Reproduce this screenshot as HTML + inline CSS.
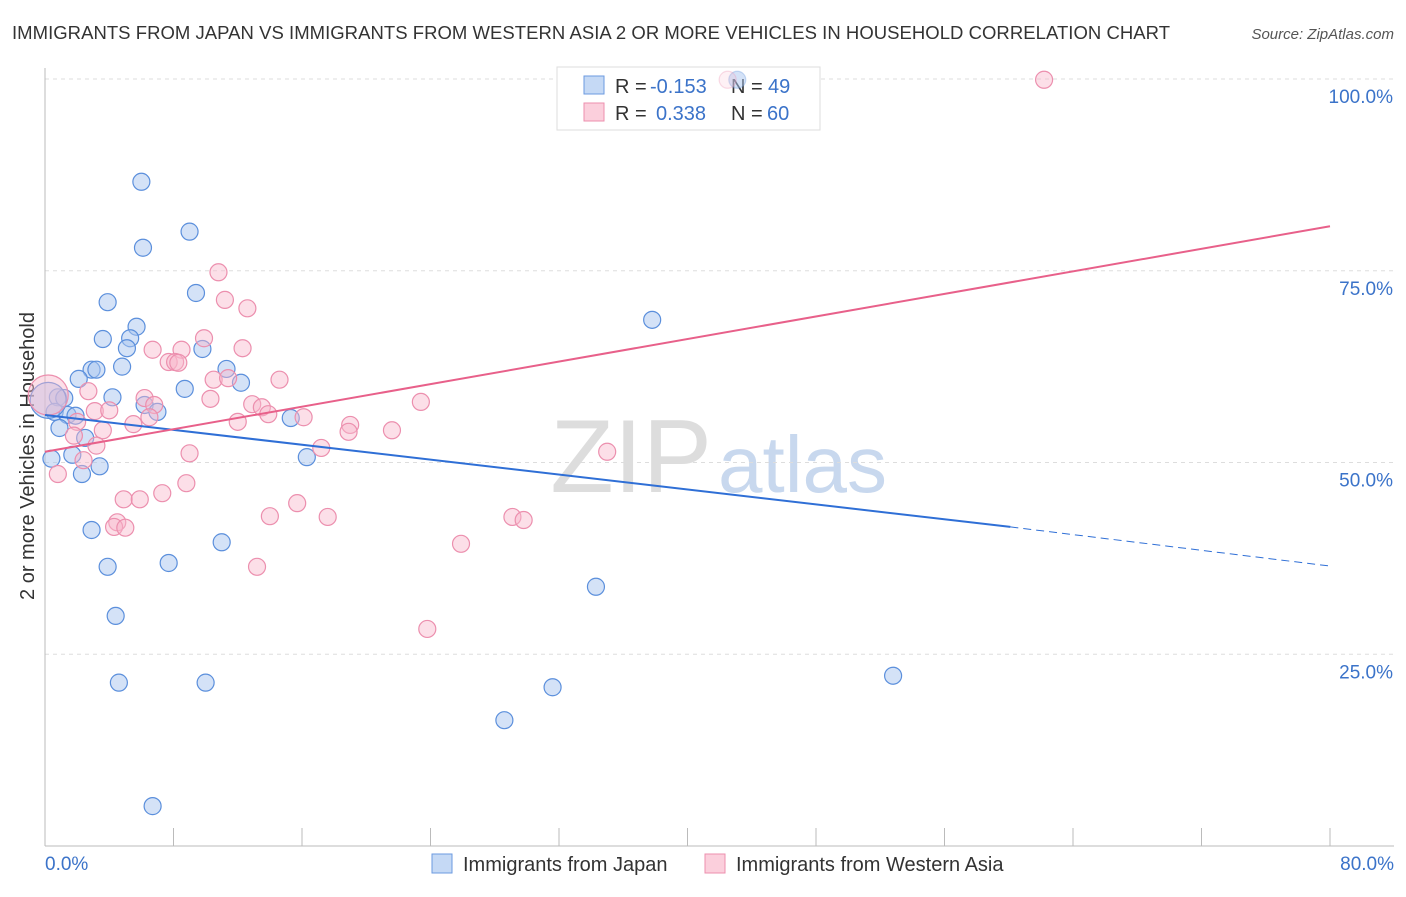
<!DOCTYPE html>
<html><head><meta charset="utf-8"><style>
body{margin:0;background:#fff;font-family:"Liberation Sans",sans-serif}
svg text{font-family:"Liberation Sans",sans-serif}
</style></head><body>
<svg width="1406" height="892" xmlns="http://www.w3.org/2000/svg">
<text x="12" y="39" font-size="18.5" fill="#333" textLength="1158">IMMIGRANTS FROM JAPAN VS IMMIGRANTS FROM WESTERN ASIA 2 OR MORE VEHICLES IN HOUSEHOLD CORRELATION CHART</text>
<text x="1394" y="39" font-size="15" fill="#555" text-anchor="end" font-style="italic">Source: ZipAtlas.com</text>
<text x="712" y="492" font-size="104" fill="#ddd" text-anchor="end" font-family="Liberation Serif">ZIP</text>
<text x="718" y="492" font-size="80" fill="#c8d8ee">atlas</text>
<g id="grid"></g>
<line x1="45" y1="68" x2="45" y2="846" stroke="#bbb"/>
<line x1="45" y1="846" x2="1394" y2="846" stroke="#bbb"/>
<g id="xticks"></g>
<text x="34" y="456" font-size="20" fill="#333" text-anchor="middle" transform="rotate(-90 34 456)">2 or more Vehicles in Household</text>
<text x="45" y="870" font-size="19" fill="#3b73c9">0.0%</text>
<text x="1394" y="870" font-size="19" fill="#3b73c9" text-anchor="end">80.0%</text>
<g>
<rect x="557" y="67" width="263" height="63" fill="#fff" stroke="#ddd"/>
<rect x="584" y="76" width="20" height="18" fill="#c5d9f5" stroke="#6b9ae0"/>
<rect x="584" y="103" width="20" height="18" fill="#fbcfdc" stroke="#ec8fae"/>
<text x="615" y="93" font-size="20" fill="#333">R =</text>
<text x="650" y="93" font-size="20" fill="#3b73c9">-0.153</text>
<text x="731" y="93" font-size="20" fill="#333">N =</text>
<text x="768" y="93" font-size="20" fill="#3b73c9">49</text>
<text x="615" y="120" font-size="20" fill="#333">R =</text>
<text x="656" y="120" font-size="20" fill="#3b73c9">0.338</text>
<text x="731" y="120" font-size="20" fill="#333">N =</text>
<text x="767" y="120" font-size="20" fill="#3b73c9">60</text>
</g>
<g id="pts"></g>
<g id="lines"></g>
<g>
<rect x="432" y="854" width="20" height="19" fill="#c5d9f5" stroke="#6b9ae0"/>
<text x="463" y="871" font-size="20" fill="#333">Immigrants from Japan</text>
<rect x="705" y="854" width="20" height="19" fill="#fbcfdc" stroke="#ec8fae"/>
<text x="736" y="871" font-size="20" fill="#333">Immigrants from Western Asia</text>
</g>
</svg>
<script>
const yTicks=[25,50,75,100];
const yTickLabels=["25.0%","50.0%","75.0%","100.0%"];
const blueX=[6.0,6.1,9.0,9.4,3.9,5.7,3.6,5.3,5.1,9.8,2.9,3.2,4.8,11.3,2.1,8.7,12.2,4.2,0.8,1.2,6.2,7.0,0.6,1.4,1.9,15.3,0.9,2.5,1.7,16.3,0.4,3.4,2.3,2.9,11.0,3.9,7.7,4.4,4.6,10.0,6.7,37.8,34.3,31.6,28.6,52.8,43.1,0.2];
const blueY=[86.6,78.0,80.1,72.1,70.9,67.7,66.1,66.2,64.9,64.8,62.1,62.1,62.5,62.2,60.9,59.6,60.4,58.5,58.5,58.4,57.5,56.6,56.6,56.2,56.1,55.8,54.5,53.2,51.0,50.7,50.5,49.5,48.5,41.2,39.6,36.4,36.9,30.0,21.3,21.3,5.2,68.6,33.8,20.7,16.4,22.2,99.9,58.1];
const pinkX=[62.2,42.5,10.8,11.2,12.6,9.9,6.7,8.5,12.3,7.7,8.1,8.3,10.5,14.6,11.4,2.7,6.2,10.3,23.4,6.8,12.9,13.5,3.1,4.0,13.9,16.1,6.5,12.0,5.5,2.0,19.0,18.9,21.6,3.6,1.8,3.2,17.2,9.0,2.4,35.0,0.2,0.8,8.8,7.3,4.9,5.9,15.7,14.0,17.6,29.1,29.8,4.5,4.3,5.0,25.9,13.2,23.8];
const pinkY=[99.9,99.9,74.8,71.2,70.1,66.2,64.7,64.7,64.9,63.1,63.1,63.0,60.8,60.8,61.0,59.3,58.4,58.3,57.9,57.5,57.6,57.2,56.7,56.8,56.3,55.9,55.9,55.3,55.0,55.3,54.9,54.0,54.2,54.2,53.5,52.2,51.9,51.2,50.3,51.4,58.8,48.5,47.3,46.0,45.2,45.2,44.7,43.0,42.9,42.9,42.5,42.2,41.6,41.5,39.4,36.4,28.3];
const blueTrend=[56.2,41.6,36.5], pinkTrend=[51.4,80.8];
const NS="http://www.w3.org/2000/svg";
const sx=v=>45+v/80*1285, sy=v=>846-v*7.67;
function mk(t,a,p){const e=document.createElementNS(NS,t);for(const k in a)e.setAttribute(k,a[k]);document.getElementById(p).appendChild(e);return e;}
yTicks.forEach((t,i)=>{
 const l=mk('line',{x1:45,x2:1394,y1:sy(t),y2:sy(t),stroke:'#ddd','stroke-dasharray':'4 4'},'grid');
 
 
 const tx=mk('text',{x:1393,y:sy(t)+24,'font-size':19,fill:'#3b73c9','text-anchor':'end'},'grid');
 tx.textContent=yTickLabels[i];
 
 
});
for(let i=1;i<=10;i++){
 const l=mk('line',{x1:sx(i*8),x2:sx(i*8),y1:828,y2:846,stroke:'#bbb'},'xticks');
 
 
}
blueX.forEach((x,i)=>{
 const c=mk('circle',{cx:sx(x),cy:sy(blueY[i]),r:i==blueX.length-1?18:8.5,fill:'#a9c6f0','fill-opacity':0.5,stroke:'#5b8fdc','stroke-width':1.2,'stroke-opacity':i==46?0.3:1},'pts');
 
 
});
pinkX.forEach((x,i)=>{
 const c=mk('circle',{cx:sx(x),cy:sy(pinkY[i]),r:i==40?20:8.5,fill:'#f8b9cc','fill-opacity':i==1?0.2:0.45,stroke:'#ec8fae','stroke-width':1.2,'stroke-opacity':i==1?0.3:1},'pts');
 
 
});
let b=mk('line',{x1:sx(0),y1:sy(blueTrend[0]),x2:sx(60.1),y2:sy(blueTrend[1]),stroke:'#2f6fd6','stroke-width':2},'lines');


b=mk('line',{x1:sx(60.1),y1:sy(blueTrend[1]),x2:sx(80),y2:sy(blueTrend[2]),stroke:'#2f6fd6','stroke-width':1,'stroke-dasharray':'8 5'},'lines');


b=mk('line',{x1:sx(0),y1:sy(pinkTrend[0]),x2:sx(80),y2:sy(pinkTrend[1]),stroke:'#e8608a','stroke-width':2},'lines');


</script>
</body></html>
